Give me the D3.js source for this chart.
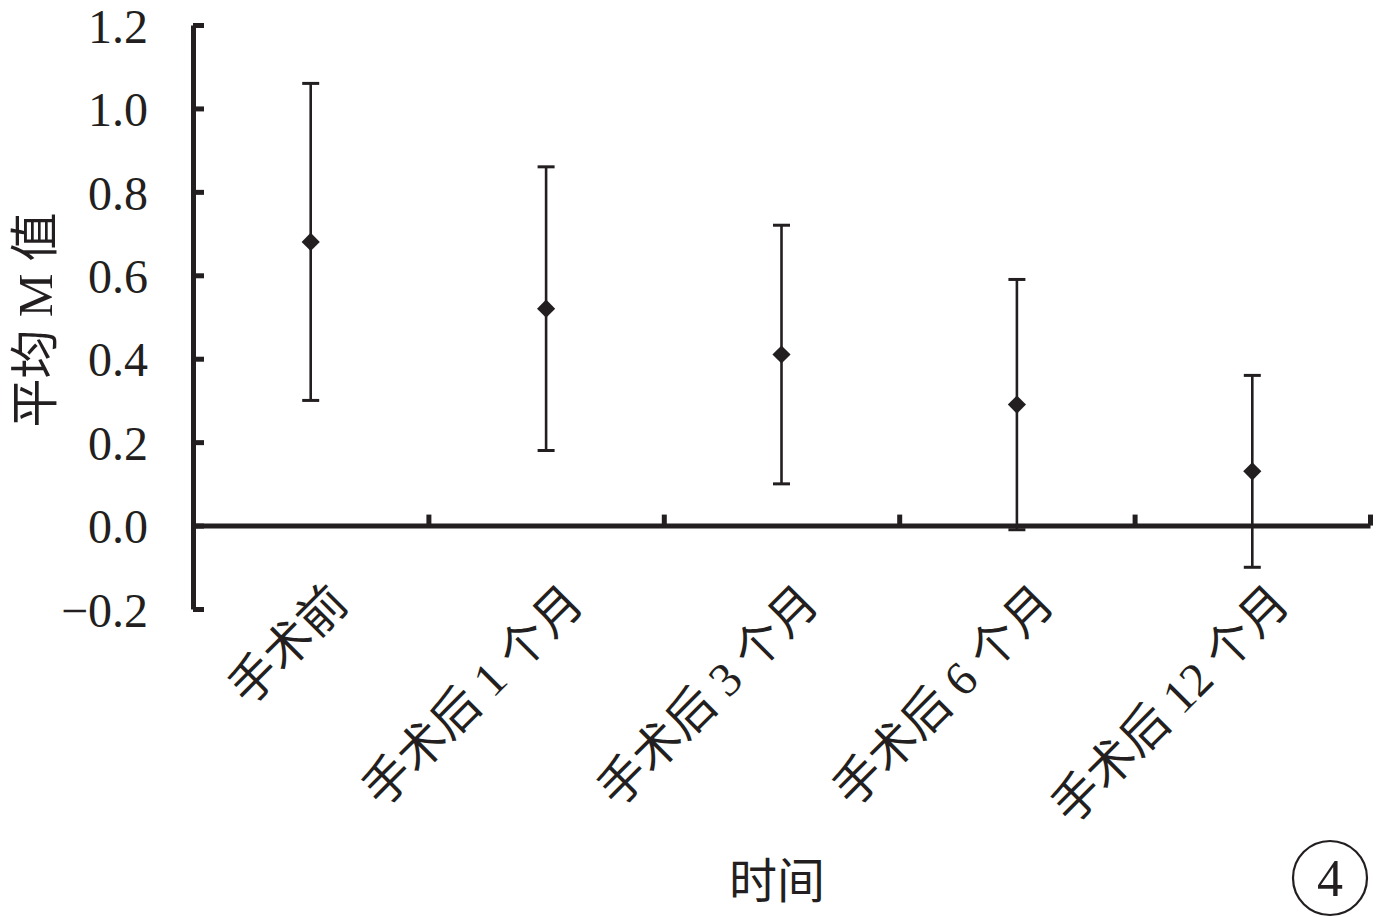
<!DOCTYPE html>
<html><head><meta charset="utf-8">
<script src="https://cdn.jsdelivr.net/npm/d3@7"></script>
<style>
html,body{margin:0;padding:0;background:#fff;}
svg{display:block;}
text{font-family:"Liberation Serif","Noto Sans CJK SC",serif;fill:#231f20;}
</style></head>
<body>
<svg id="chart" width="1378" height="917"></svg>
<script>
const categories = ["手术前","手术后 1 个月","手术后 3 个月","手术后 6 个月","手术后 12 个月"];
const means = [0.68, 0.52, 0.41, 0.29, 0.13];
const upper = [1.06, 0.86, 0.72, 0.59, 0.36];
const lower = [0.30, 0.18, 0.10, -0.01, -0.10];
const yTicks = [-0.2, 0.0, 0.2, 0.4, 0.6, 0.8, 1.0, 1.2];
const yTitle = "平均 M 值";
const xTitle = "时间";
const panelLabel = "4";

const ink = "#231f20";
const svg = d3.select("#chart");
const plotL = 193, plotR = 1370, plotT = 25, plotB = 609;

const y = d3.scaleLinear().domain([-0.2, 1.2]).range([plotB, plotT]);
const x = d3.scaleBand().domain(categories).range([plotL, plotR]).padding(0);
const xi = d3.scaleLinear().domain([0, categories.length]).range([plotL, plotR]);

// Y axis
const yAxis = d3.axisLeft(y).tickValues(yTicks).tickFormat(d3.format(".1f"))
  .tickSizeInner(-11).tickSizeOuter(0).tickPadding(45);
const gy = svg.append("g").attr("transform", `translate(${plotL},0)`).call(yAxis);
gy.select(".domain").attr("stroke", ink).attr("stroke-width", 5);
gy.selectAll(".tick line").attr("stroke", ink).attr("stroke-width", 5);
gy.selectAll(".tick text").attr("font-size", 48).attr("fill", ink)
  .attr("font-family", "Liberation Serif").attr("dy", "0.36em");

// X axis (ticks at category boundaries, pointing up)
const xAxis = d3.axisBottom(xi).tickValues(d3.range(1, categories.length + 1))
  .tickSizeInner(-11).tickSizeOuter(0).tickFormat("");
const gx = svg.append("g").attr("transform", `translate(0,${y(0)})`).call(xAxis);
gx.select(".domain").attr("stroke", ink).attr("stroke-width", 5);
gx.selectAll(".tick line").attr("stroke", ink).attr("stroke-width", 5);

// X labels
svg.append("g").selectAll("text").data(categories).join("text")
  .attr("text-anchor", "end")
  .attr("font-size", 48)
  .attr("transform", d => `translate(${x(d) + x.bandwidth()/2 + 40},${y(0) + 80}) rotate(-45)`)
  .text(d => d);

// Error bars
const cx = d => x(d) + x.bandwidth()/2;
const data = categories.map((c, i) => ({c, m: means[i], u: upper[i], l: lower[i]}));
const gE = svg.append("g");
gE.selectAll("line.v").data(data).join("line").attr("class", "v")
  .attr("x1", d => cx(d.c)).attr("x2", d => cx(d.c))
  .attr("y1", d => y(d.u)).attr("y2", d => y(d.l))
  .attr("stroke", ink).attr("stroke-width", 2.6);
gE.selectAll("line.u").data(data).join("line").attr("class", "u")
  .attr("x1", d => cx(d.c) - 8.5).attr("x2", d => cx(d.c) + 8.5)
  .attr("y1", d => y(d.u)).attr("y2", d => y(d.u))
  .attr("stroke", ink).attr("stroke-width", 3);
gE.selectAll("line.l").data(data).join("line").attr("class", "l")
  .attr("x1", d => cx(d.c) - 8.5).attr("x2", d => cx(d.c) + 8.5)
  .attr("y1", d => y(d.l)).attr("y2", d => y(d.l))
  .attr("stroke", ink).attr("stroke-width", 3);

// Markers
gE.selectAll("path.m").data(data).join("path").attr("class", "m")
  .attr("d", d3.symbol(d3.symbolSquare, 165))
  .attr("transform", d => `translate(${cx(d.c)},${y(d.m)}) rotate(45)`)
  .attr("fill", ink);

// Titles
svg.append("text").attr("font-size", 49).attr("text-anchor", "middle")
  .attr("transform", `translate(52,320) rotate(-90)`).text(yTitle);
svg.append("text").attr("font-size", 48).attr("text-anchor", "middle")
  .attr("x", 777).attr("y", 898).text(xTitle);

// Panel label
svg.append("circle").attr("cx", 1330).attr("cy", 878).attr("r", 37)
  .attr("fill", "none").attr("stroke", ink).attr("stroke-width", 2.2);
svg.append("text").attr("font-size", 52).attr("text-anchor", "middle")
  .attr("font-family", "Liberation Serif")
  .attr("x", 1330).attr("y", 878).attr("dy", "0.34em").text(panelLabel);
</script>
</body></html>
